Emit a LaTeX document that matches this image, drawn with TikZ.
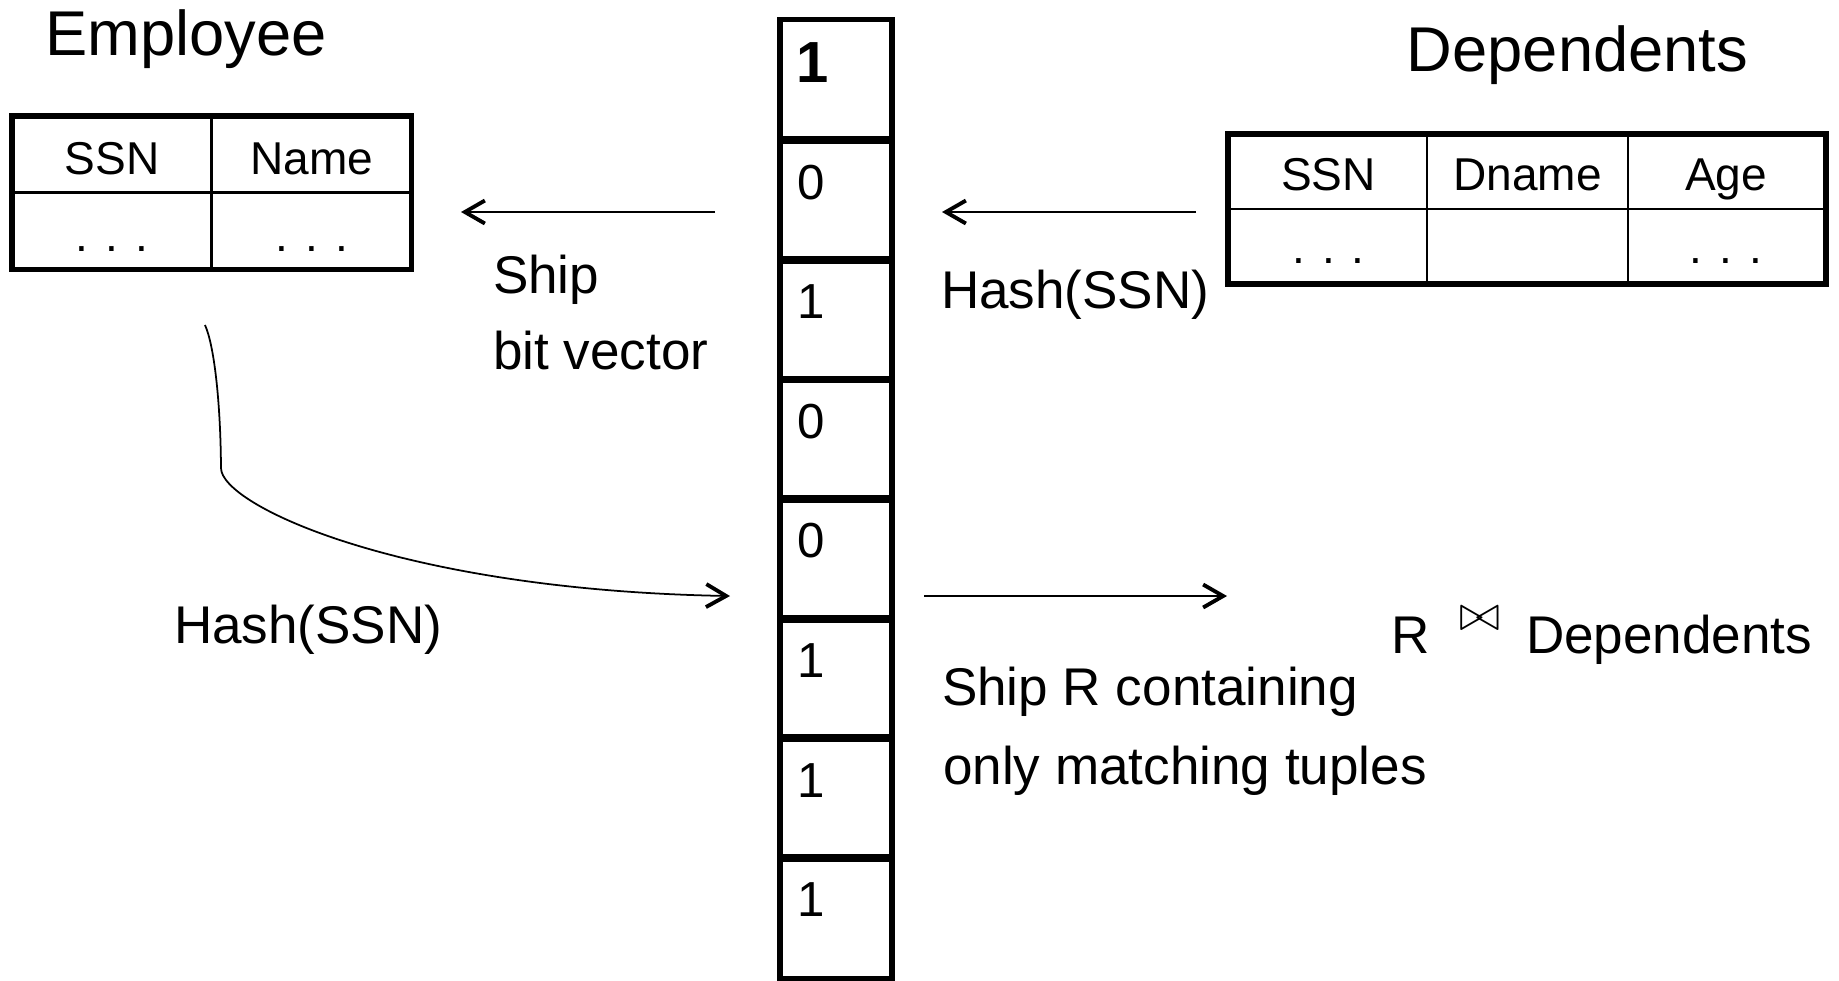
\documentclass[tikz,border=0pt]{standalone}
\usepackage{fontspec}
\setmainfont{Liberation Sans}
\usetikzlibrary{positioning,calc,arrows.meta}

\begin{document}
\begin{tikzpicture}[every node/.style={inner sep=0pt, outer sep=0pt},
  title/.style={font=\fontsize{18}{22}\selectfont, anchor=base},
  colhead/.style={font=\fontsize{13.1}{16}\selectfont, anchor=base},
  lbl/.style={font=\fontsize{15.1}{18.5}\selectfont, anchor=base west},
  bitcell/.style={draw, line width=1.5pt, minimum width=1.12cm, minimum height=1.22cm},
  bitval/.style={font=\fontsize{14}{17}\selectfont, anchor=base west, xshift=0.17cm, yshift=0.01cm},
  shiparrow/.style={line width=0.75pt, -{Straight Barb[length=2mm,width=2.3mm,line width=1.1pt]}}]
  \useasboundingbox (0,0) rectangle (18.39,-9.80);
  % Employee
  \node[title] (empTitle) at (1.86,-0.55) {Employee};
  \draw[line width=1.6pt] (0.12,-1.16) rectangle (4.115,-2.695);
  \draw[line width=0.8pt] (2.117,-1.16) -- (2.117,-2.695);
  \draw[line width=0.8pt] (0.12,-1.923) -- (4.115,-1.923);
  \node[colhead] (empSSN) at (1.12,-1.74) {SSN};
  \node[colhead] (empName) at (3.116,-1.74) {Name};
  \node[colhead] (empDots1) at (1.12,-2.51) {. . .};
  \node[colhead] (empDots2) at (3.116,-2.51) {. . .};
  % Dependents
  \node[title] (depTitle) at (15.775,-0.71) {Dependents};
  \draw[line width=1.6pt] (12.28,-1.34) rectangle (18.26,-2.84);
  \draw[line width=0.8pt] (14.27,-1.34) -- (14.27,-2.84);
  \draw[line width=0.8pt] (16.28,-1.34) -- (16.28,-2.84);
  \draw[line width=0.8pt] (12.28,-2.09) -- (18.26,-2.09);
  \node[colhead] (depSSN) at (13.285,-1.90) {SSN};
  \node[colhead] (depDname) at (15.275,-1.90) {Dname};
  \node[colhead] (depAge) at (17.26,-1.90) {Age};
  \node[colhead] (depDots1) at (13.285,-2.63) {. . .};
  \node[colhead] (depDots3) at (17.26,-2.63) {. . .};
  % bit vector
  \foreach \i in {1,...,8}
    \node[bitcell] (bit\i) at (8.36,{-0.805-1.196*(\i-1)}) {};
  \node[bitval, font=\fontsize{16.5}{20}\selectfont\bfseries, xshift=-0.01cm, yshift=-0.03cm] (val1) at (bit1.west) {1};
  \foreach \b [count=\i from 2] in {0,1,0,0,1,1,1}
    \node[bitval] (val\i) at (bit\i.west) {\b};
  % arrows
  \coordinate (bitsOutL) at (7.15,-2.12);
  \coordinate (empIn) at (4.61,-2.12);
  \coordinate (depOut) at (11.96,-2.12);
  \coordinate (bitsInR) at (9.42,-2.12);
  \coordinate (bitsOutR) at (9.24,-5.96);
  \coordinate (joinIn) at (12.27,-5.96);
  \coordinate (empOut) at (2.05,-3.25);
  \coordinate (bitsInL) at (7.30,-5.96);
  \draw[shiparrow] (bitsOutL) -- (empIn);
  \draw[shiparrow] (depOut) -- (bitsInR);
  \draw[shiparrow] (bitsOutR) -- (joinIn);
  \draw[shiparrow, line width=0.5pt] (empOut) .. controls (2.14,-3.45) and (2.205,-4.00) .. (2.21,-4.68)
    .. controls (2.21,-5.05) and (4.00,-5.90) .. (bitsInL);
  % labels
  \node[lbl] (shipA) at (4.93,-2.93) {Ship};
  \node[lbl] (shipB) at (4.93,-3.69) {bit vector};
  \node[lbl] (hashR) at (9.41,-3.08) {Hash(SSN)};
  \node[lbl] (hashL) at (1.74,-6.43) {Hash(SSN)};
  \node[lbl] (shipRA) at (9.42,-7.05) {Ship R containing};
  \node[lbl] (shipRB) at (9.43,-7.84) {only matching tuples};
  \node[lbl] (joinR) at (13.91,-6.53) {R};
  \node[font=\fontsize{15}{18}\selectfont] (joinSym) at (14.80,-6.19) {$\bowtie$};
  \node[lbl] (joinDep) at (15.26,-6.53) {Dependents};
\end{tikzpicture}
\end{document}
